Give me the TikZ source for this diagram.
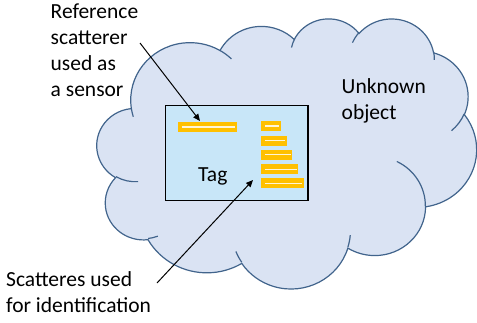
\documentclass[tikz,border=0pt]{standalone}
\usepackage{fontspec}
\setmainfont{Carlito}
\usetikzlibrary{arrows.meta}
\definecolor{cloudfill}{HTML}{DAE3F3}
\definecolor{cloudedge}{HTML}{41648C}
\definecolor{tagfill}{HTML}{C8E6F8}
\definecolor{baryellow}{HTML}{FFC000}
\definecolor{barslitc}{HTML}{FFF5D6}
\tikzset{
  cloudshape/.style={fill=cloudfill, draw=cloudedge, line width=1.2pt},
  cloudinner/.style={draw=cloudedge, line width=1.2pt},
  tagbox/.style={fill=tagfill, draw=black, line width=1.8pt},
  barfill/.style={fill=baryellow},
  barslit/.style={draw=barslitc, line width=1.5pt},
  lbl/.style={inner sep=0pt, anchor=base west, align=left, font=\fontsize{21.5}{26}\selectfont},
  conn/.style={draw=black, line width=1pt, -{Triangle[length=7pt,width=6pt]}}
}
\begin{document}
\begin{tikzpicture}[x=1pt, y=-1pt]
\useasboundingbox (0,0) rectangle (477,322);
% cloud
\begin{scope}[shift={(97,18)}, xscale=0.8785, yscale=-0.625]
\path[cloudshape] (39.00pt,143.70pt)
 arc[start angle=-187.745, end angle=-59.636, x radius=67.53pt, y radius=91.90pt]
 arc[start angle=-152.019, end angle=-45.426, x radius=53.33pt, y radius=72.67pt]
 arc[start angle=-153.493, end angle=-37.329, x radius=43.65pt, y radius=59.45pt]
 arc[start angle=-139.690, end angle=-10.211, x radius=48.57pt, y radius=65.95pt]
 arc[start angle=-74.768, end angle=23.211, x radius=53.33pt, y radius=72.73pt]
 arc[start angle=-37.524, end angle=81.863, x radius=67.75pt, y radius=92.20pt]
 arc[start angle=0.460, end angle=121.978, x radius=57.85pt, y radius=78.67pt]
 arc[start angle=16.845, end angle=146.248, x radius=67.52pt, y radius=92.15pt]
 arc[start angle=59.014, end angle=150.198, x radius=77.20pt, y radius=105.43pt]
 arc[start angle=83.304, end angle=223.113, x radius=43.60pt, y radius=59.18pt]
 arc[start angle=120.356, end angle=264.112, x radius=43.45pt, y radius=59.45pt]
 -- cycle;
\path[cloudinner] (46.93pt,261.77pt) arc[start angle=85.546, end angle=120.356, x radius=43.45pt, y radius=59.45pt];
\path[cloudinner] (69.28pt,348.99pt) arc[start angle=68.25, end angle=83.304, x radius=43.60pt, y radius=59.18pt];
\path[cloudinner] (164.78pt,390.90pt) arc[start angle=146.248, end angle=158.48, x radius=67.52pt, y radius=92.15pt];
\path[cloudinner] (288.27pt,347.51pt) arc[start angle=4.738, end angle=16.845, x radius=67.52pt, y radius=92.15pt];
\path[cloudinner] (341.29pt,229.54pt) arc[start angle=-63.98, end angle=0.460, x radius=57.85pt, y radius=78.67pt];
\path[cloudinner] (417.98pt,153.54pt) arc[start angle=23.211, end angle=49.638, x radius=53.33pt, y radius=72.73pt];
\path[cloudinner] (383.24pt,54.26pt) arc[start angle=-10.211, end angle=0.821, x radius=48.57pt, y radius=65.95pt];
\path[cloudinner] (290.78pt,39.52pt) arc[start angle=-156.28, end angle=-139.690, x radius=48.57pt, y radius=65.95pt];
\path[cloudinner] (221.41pt,47.20pt) arc[start angle=-167.725, end angle=-153.493, x radius=43.65pt, y radius=59.45pt];
\path[cloudinner] (140.00pt,51.92pt) arc[start angle=-59.636, end angle=-45.75, x radius=67.53pt, y radius=91.90pt];
\path[cloudinner] (41.27pt,157.89pt) arc[start angle=163.19, end angle=172.255, x radius=67.53pt, y radius=91.90pt];
\end{scope}
% tag
\path[tagbox] (165.5,105.5) rectangle (308,200.5);
% reference scatterer
\path[barfill] (178,122.3) rectangle (237,131.7);
\path[barslit] (181.7,126.8) -- (235,126.8);
% identification scatterers
\path[barfill] (260.5,121) rectangle (280.7,131);
\path[barslit] (265,126) -- (279,126);
\path[barfill] (260.5,135.6) rectangle (286.7,145.6);
\path[barslit] (265,140.6) -- (285,140.6);
\path[barfill] (260.5,149.6) rectangle (292.3,159.6);
\path[barslit] (265,154.6) -- (290.6,154.6);
\path[barfill] (260.5,164.3) rectangle (298.3,174.3);
\path[barslit] (265,169.3) -- (296.6,169.3);
\path[barfill] (260.5,178.3) rectangle (304,188.3);
\path[barslit] (265,183.3) -- (302.3,183.3);
% labels (anchor = baseline of the last line)
\node[lbl] (reflbl) at (50.5,96) {Reference\\scatterer\\used as\\a sensor};
\node[lbl] (scatlbl) at (6,312) {Scatteres used\\for identification};
\node[lbl] (unklbl) at (341.5,119.5) {Unknown\\object};
\node[lbl] (taglbl) at (198,181.5) {Tag};
% connectors
\coordinate (refstart) at (140,43);
\coordinate (refend) at (200,121);
\coordinate (scatstart) at (157,283);
\coordinate (scatend) at (253,180);
\draw[conn] (refstart) -- (refend);
\draw[conn] (scatstart) -- (scatend);
\end{tikzpicture}
\end{document}
